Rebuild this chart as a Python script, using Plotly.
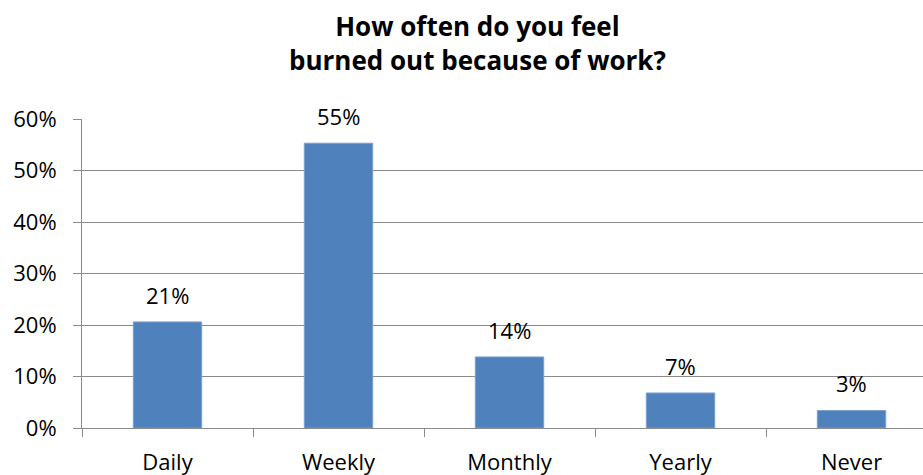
import plotly.graph_objects as go

# Survey responses: how often people feel burned out because of work
categories = ["Daily", "Weekly", "Monthly", "Yearly", "Never"]
shares = [0.206, 0.553, 0.138, 0.068, 0.034]
y_ticks = [0, 0.1, 0.2, 0.3, 0.4, 0.5, 0.6]

FONT = "Open Sans"
GRID = "#8a8a8a"
TEXT_SIZE = 22

fig = go.Figure(
    go.Bar(
        x=categories,
        y=shares,
        marker=dict(color="#4f81bd", line=dict(color="#7aa0cf", width=1)),
        width=0.4,
    )
)

# Value labels above each bar, formatted from the bar's own value
for cat, val in zip(categories, shares):
    fig.add_annotation(
        x=cat, y=val, text=f"{val:.0%}", showarrow=False,
        yanchor="middle", yshift=27,
        font=dict(family=FONT, size=TEXT_SIZE, color="#000000"),
    )

# Two-line bold chart title
fig.add_annotation(
    text="<b>How often do you feel<br>burned out because of work?</b>",
    xref="paper", yref="paper",
    x=(477 - 82) / 841, y=1 + (119 - 43) / 309,
    xanchor="center", yanchor="middle",
    showarrow=False, align="center",
    font=dict(family=FONT, size=26, color="#000000"),
)

fig.update_layout(
    width=923, height=475,
    margin=dict(l=82, r=0, t=119, b=47),
    paper_bgcolor="white", plot_bgcolor="white",
    showlegend=False,
    font=dict(family=FONT, size=TEXT_SIZE, color="#000000"),
)

fig.update_xaxes(
    range=[-0.5, 4.418],
    tickson="boundaries",
    ticks="outside", ticklen=8, tickcolor=GRID, tickwidth=1,
    showline=True, linecolor=GRID, linewidth=1,
    showgrid=False,
    ticklabelstandoff=15,
    tickfont=dict(family=FONT, size=TEXT_SIZE, color="#000000"),
)
fig.update_yaxes(
    range=[0, 0.6],
    tickvals=y_ticks, tickformat=".0%",
    ticks="outside", ticklen=8, tickcolor=GRID, tickwidth=1,
    showline=True, linecolor=GRID, linewidth=1,
    showgrid=True, gridcolor=GRID, gridwidth=1,
    zeroline=False,
    ticklabelstandoff=12,
    tickfont=dict(family=FONT, size=TEXT_SIZE, color="#000000"),
)

fig.write_html("out.html")
